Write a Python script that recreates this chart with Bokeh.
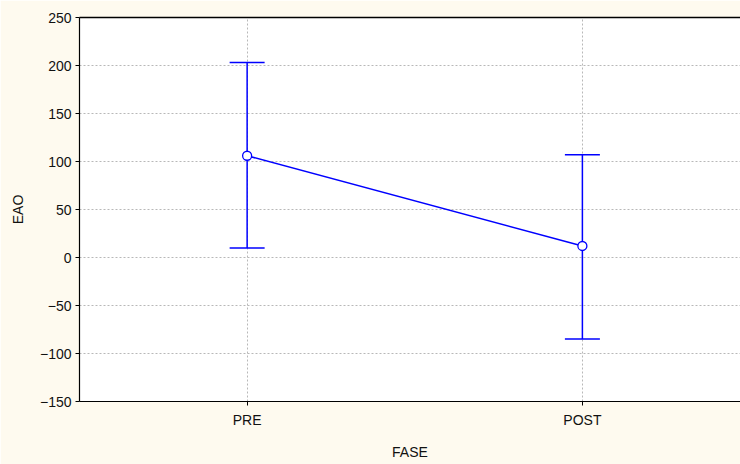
from bokeh.plotting import figure
from bokeh.models import (ColumnDataSource, Whisker, TeeHead, FixedTicker,
                          LinearAxis, Range1d)
from bokeh.embed import file_html
from bokeh.resources import INLINE

categories = ["PRE", "POST"]
means = [106, 12]
lower = [10, -85]
upper = [203, 107]
y_ticks = [-150, -100, -50, 0, 50, 100, 150, 200, 250]

xpos = [i + 1 for i in range(len(categories))]
src = ColumnDataSource(dict(x=xpos, mean=means, lower=lower, upper=upper))

BG = "#FEFAEF"
BLUE = "#0000FF"
FONT = "Liberation Sans"

p = figure(width=740, height=464, output_backend="svg", toolbar_location=None,
           x_range=Range1d(0.5, 2.4716), y_range=Range1d(-150, 250),
           background_fill_color="white", border_fill_color=BG,
           min_border_left=79, min_border_right=0, min_border_top=17,
           min_border_bottom=63, outline_line_color=None)

p.xaxis.ticker = FixedTicker(ticks=xpos)
p.xaxis.major_label_overrides = {x: c for x, c in zip(xpos, categories)}
p.yaxis.ticker = FixedTicker(ticks=y_ticks)

for ax in (p.xaxis[0], p.yaxis[0]):
    ax.axis_line_color = "black"
    ax.axis_line_width = 1.2
    ax.major_tick_line_color = "black"
    ax.major_tick_out = 4
    ax.major_tick_in = 0
    ax.minor_tick_line_color = None
    ax.major_label_text_font = FONT
    ax.major_label_text_font_size = "14px"
    ax.major_label_text_color = "#111111"
    ax.axis_label_text_font = FONT
    ax.axis_label_text_font_size = "14px"
    ax.axis_label_text_font_style = "normal"
    ax.axis_label_text_color = "#111111"

p.xaxis.axis_label = "FASE"
p.yaxis.axis_label = "EAO"
p.xaxis.major_label_standoff = 6
p.xaxis.axis_label_standoff = 13
p.yaxis.major_label_standoff = 4
p.yaxis.axis_label_standoff = 11

top = LinearAxis(ticker=FixedTicker(ticks=[]), major_label_text_font_size="0px",
                 major_tick_line_color=None, minor_tick_line_color=None,
                 axis_line_color="black", axis_line_width=1.5)
p.add_layout(top, "above")

p.xgrid.ticker = FixedTicker(ticks=xpos)
for g in (p.xgrid[0], p.ygrid[0]):
    g.grid_line_color = "#b8b8b8"
    g.grid_line_dash = "2 2"
    g.grid_line_width = 1

w = Whisker(source=src, base="x", lower="lower", upper="upper",
            line_color=BLUE, line_width=1.5,
            upper_head=TeeHead(size=35, line_color=BLUE, line_width=1.5),
            lower_head=TeeHead(size=35, line_color=BLUE, line_width=1.5))
p.add_layout(w)

p.line("x", "mean", source=src, line_color=BLUE, line_width=1.5)
p.scatter("x", "mean", source=src, size=9, fill_color="white",
          line_color=BLUE, line_width=1.3)

open("out.html", "w").write(file_html(p, INLINE))
